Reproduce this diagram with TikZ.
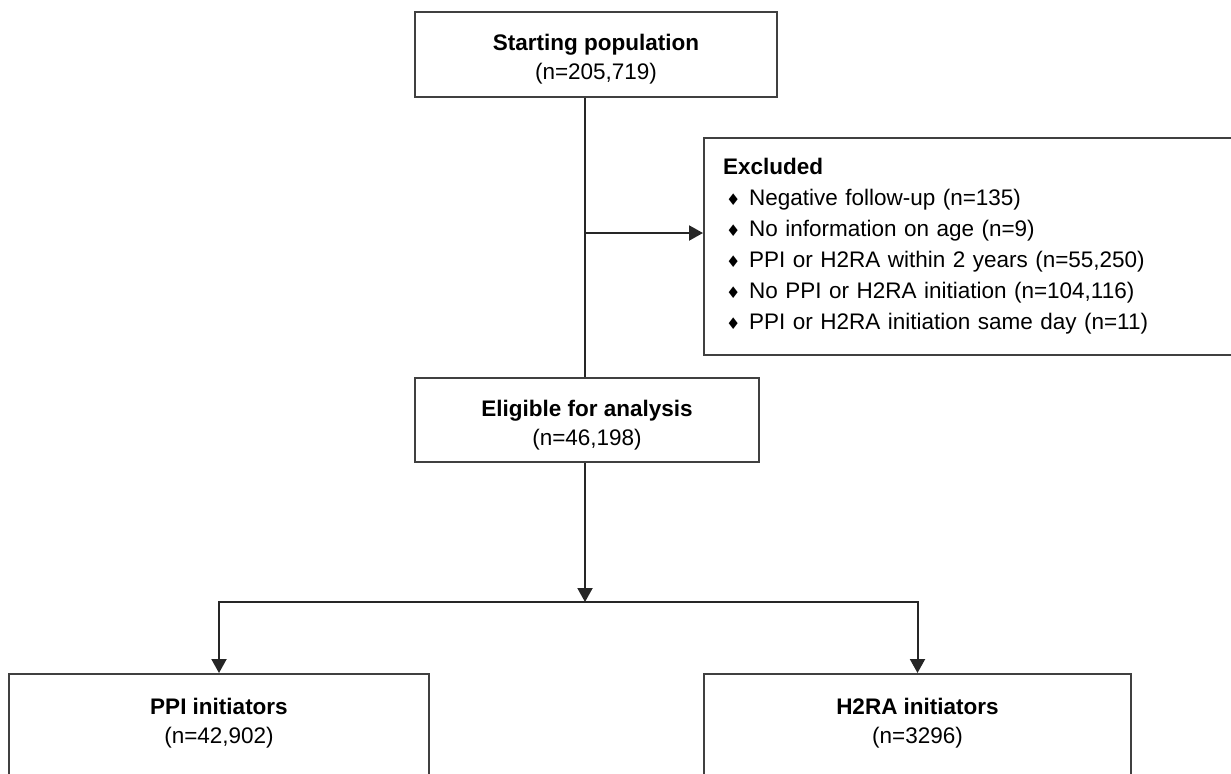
\documentclass[tikz,border=0pt]{standalone}
\usepackage{fontspec}
\setmainfont{Liberation Sans}
\newfontfamily\dingfont{DejaVu Sans}
\usetikzlibrary{arrows.meta, positioning}
\newcommand{\itemdia}{\makebox[13pt][l]{\hspace{1.6pt}{\dingfont\fontsize{8}{8}\selectfont ♦}}}
\newcommand{\topgap}{\rule{0pt}{13pt}}

\begin{document}
\begin{tikzpicture}[
  x=0.5pt, y=-0.5pt,
  box/.style={rectangle, draw=black!75, line width=1pt, align=center, inner sep=0pt, font=\fontsize{11.25}{14.5}\selectfont},
  exclbox/.style={rectangle, draw=black!75, line width=1pt, align=left, text width=251pt, inner xsep=9.5pt, inner ysep=0pt, minimum height=108.5pt, font=\fontsize{11.25}{15.5}\selectfont},
  armbox/.style={box, anchor=north, inner ysep=12pt, text depth=40pt},
  flow/.style={draw=black!85, line width=1pt},
  >={Triangle[length=7pt, width=7.5pt]}
]
\useasboundingbox (0,0) rectangle (1231,773);

\node[box, minimum width=181pt, minimum height=42.5pt] (start) at (596,54.5) {\topgap\textbf{Starting population}\\(n=205,719)};
\node[box, minimum width=172pt, minimum height=42pt] (elig) at (587,420) {\topgap\textbf{Eligible for analysis}\\(n=46,198)};
\node[exclbox, anchor=north west] (excl) at (703,137) {\textbf{Excluded}\\
  \itemdia Negative follow-up (n=135)\\
  \itemdia No information on age (n=9)\\
  \itemdia PPI or H2RA within 2 years (n=55,250)\\
  \itemdia No PPI or H2RA initiation (n=104,116)\\
  \itemdia PPI or H2RA initiation same day (n=11)};
\node[armbox, minimum width=210pt] (ppi) at (219,673) {\textbf{PPI initiators}\\(n=42,902)};
\node[armbox, minimum width=213.5pt] (h2ra) at (917.5,673) {\textbf{H2RA initiators}\\(n=3296)};

\coordinate (split) at (585,233);
\coordinate (fork) at (585,602);

\draw[flow] (start.south -| split) -- (elig.north -| split);
\draw[flow, ->] (split) -- (split -| excl.west);
\draw[flow, ->] (elig.south -| fork) -- (fork);
\draw[flow, ->] (fork) -| (ppi.north);
\draw[flow, ->] (fork) -| (h2ra.north);
\end{tikzpicture}
\end{document}
